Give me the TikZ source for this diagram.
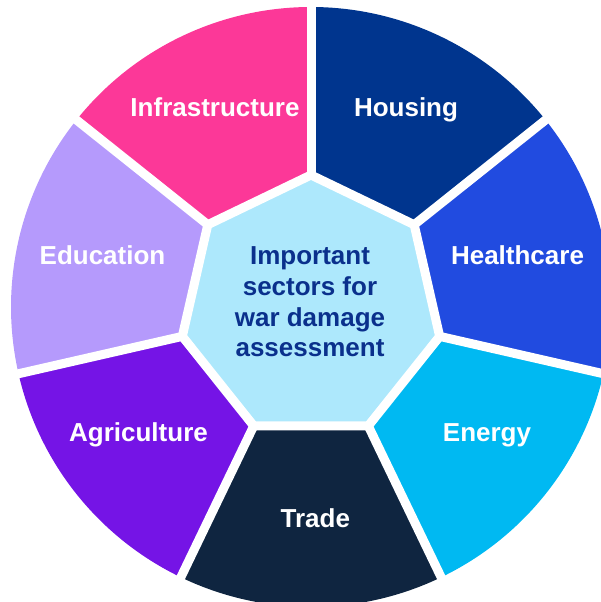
\documentclass[tikz,border=0pt]{standalone}
\usepackage{fontspec}
\setmainfont{Liberation Sans}

\definecolor{infracol}{RGB}{252,56,152}
\definecolor{housecol}{RGB}{0,53,142}
\definecolor{healthcol}{RGB}{33,75,224}
\definecolor{energycol}{RGB}{0,185,242}
\definecolor{tradecol}{RGB}{15,37,64}
\definecolor{agricol}{RGB}{117,20,230}
\definecolor{educol}{RGB}{181,154,252}
\definecolor{hubfill}{RGB}{173,232,252}
\definecolor{hubtext}{RGB}{10,48,140}

\begin{document}
\begin{tikzpicture}[x=1pt,y=1pt,
  sectorlabel/.style={text=white, font=\bfseries\fontsize{26}{31}\selectfont,
    anchor=base, inner sep=0pt},
  hublabel/.style={text=hubtext, font=\bfseries\fontsize{26}{30.7}\selectfont,
    align=center, inner sep=0pt},
  gapline/.style={draw=white, line width=9pt}]

\useasboundingbox (-311,-295) rectangle (289,307);

% outer wheel split into seven wedges
\def\Rwheel{300}
\foreach \a/\b/\c in {38.571/90/housecol, -12.857/38.571/healthcol,
    -64.286/-12.857/energycol, -115.714/-64.286/tradecol,
    -167.143/-115.714/agricol, 141.429/192.857/educol, 90/141.429/infracol}
  \fill[\c] (0,0) -- (\a:\Rwheel) arc[start angle=\a, end angle=\b, radius=\Rwheel] -- cycle;

% heptagon corners and the matching points on the rim
\foreach \k in {0,...,6} {
  \coordinate (v\k) at ({90-\k*360/7}:132);
  \coordinate (rim\k) at ({90-\k*360/7}:312);
}

% white separators between the wedges
\foreach \k in {0,...,6}
  \draw[gapline] (v\k) -- (rim\k);

% central heptagon
\filldraw[fill=hubfill, gapline, line join=miter]
  (v0) -- (v1) -- (v2) -- (v3) -- (v4) -- (v5) -- (v6) -- cycle;

\node[hublabel] (hub) at (-1,5) {Important\\sectors for\\war damage\\assessment};

% wedge labels
\node[sectorlabel] (infra)  at (-96,190.3)  {Infrastructure};
\node[sectorlabel] (house)  at (95,190.3)   {Housing};
\node[sectorlabel] (health) at (206.5,42.3) {Healthcare};
\node[sectorlabel] (energy) at (176,-134.7) {Energy};
\node[sectorlabel] (trade)  at (4.3,-220.7) {Trade};
\node[sectorlabel] (agri)   at (-172.5,-134.7) {Agriculture};
\node[sectorlabel] (edu)    at (-208.5,42.3) {Education};
\end{tikzpicture}
\end{document}
